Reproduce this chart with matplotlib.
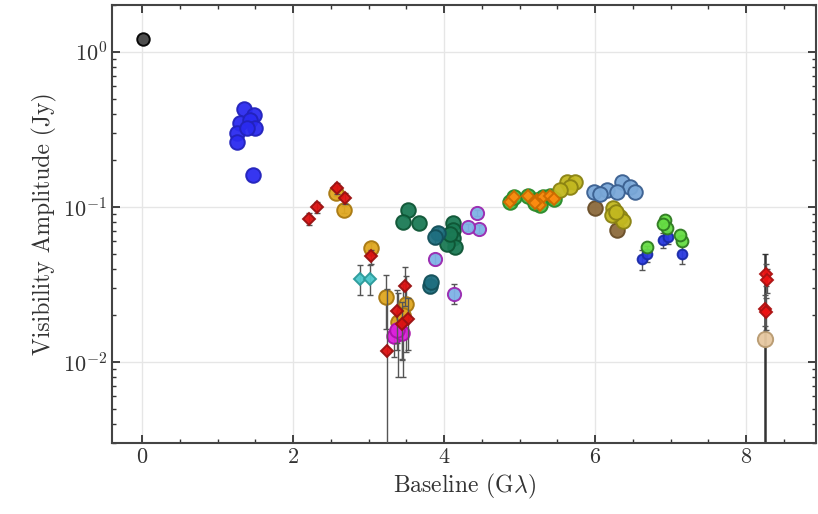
import numpy as np
import matplotlib.pyplot as plt

plt.rcParams['font.family'] = 'serif'
plt.rcParams['font.serif'] = ['cmr10', 'DejaVu Serif']
plt.rcParams['mathtext.fontset'] = 'cm'
plt.rcParams['axes.unicode_minus'] = False
plt.rcParams['axes.formatter.use_mathtext'] = True

# zero-spacing flux
x_zero = [0.01]
y_zero = [1.21]

# short baselines (blue)
x_blue = [1.35, 1.48, 1.30, 1.43, 1.50, 1.26, 1.25, 1.39, 1.47]
y_blue = [0.425, 0.394, 0.349, 0.366, 0.325, 0.301, 0.263, 0.325, 0.161]

# red diamonds
x_red = [2.21, 2.32, 2.58, 2.68, 3.03, 3.24, 3.48, 3.52, 3.38, 3.44]
y_red = [0.084, 0.0995, 0.132, 0.114, 0.048, 0.0117, 0.031, 0.0189, 0.0213, 0.0175]
err_red_lo = [0.008, 0.008, 0.010, 0.009, 0.005, 0.0116, 0.008, 0.007, 0.008, 0.007]
err_red_hi = [0.008, 0.008, 0.010, 0.009, 0.005, 0.018, 0.010, 0.007, 0.008, 0.007]

# gold circles
x_gold = [2.56, 2.67, 3.03, 3.23, 3.50, 3.39, 3.45]
y_gold = [0.123, 0.096, 0.0546, 0.0263, 0.0236, 0.018, 0.020]
err_gold = [0.006, 0.005, 0.004, 0.010, 0.012, 0.010, 0.012]

# cyan
x_cyan = [2.89, 3.02]
y_cyan = [0.0344, 0.0344]
err_cyan = [0.0075, 0.0075]

# magenta
x_mag = [3.33, 3.44, 3.38]
y_mag = [0.0147, 0.0153, 0.0160]
err_mag = [0.004, 0.005, 0.004]

# dark green
x_dgreen = [3.52, 3.45, 3.67, 4.11, 4.12, 4.12, 4.14, 4.04, 4.08]
y_dgreen = [0.095, 0.080, 0.079, 0.079, 0.071, 0.063, 0.055, 0.058, 0.067]

# teal
x_teal = [3.92, 3.81, 3.88, 3.83]
y_teal = [0.068, 0.031, 0.064, 0.033]
err_teal = [0.006, 0.003, 0.006, 0.003]

# purple edged light blue
x_purp = [4.44, 4.46, 4.32, 3.88, 4.13]
y_purp = [0.091, 0.072, 0.074, 0.046, 0.0276]
err_purp = [0.004, 0.004, 0.004, 0.004, 0.004]

# green with orange
x_lgreen = [4.87, 4.92, 5.11, 5.23, 5.31, 5.40, 5.27, 5.45, 5.20]
y_lgreen = [0.107, 0.115, 0.118, 0.110, 0.115, 0.118, 0.103, 0.113, 0.106]

# olive
x_olive = [5.63, 5.73, 5.67, 5.54, 6.24, 6.33, 6.37, 6.22, 6.28]
y_olive = [0.144, 0.144, 0.134, 0.128, 0.099, 0.086, 0.081, 0.089, 0.093]

# steel blue
x_steel = [5.98, 6.16, 6.36, 6.46, 6.53, 6.29, 6.07]
y_steel = [0.125, 0.128, 0.144, 0.134, 0.125, 0.125, 0.122]

# brown
x_brown = [6.00, 6.29]
y_brown = [0.098, 0.071]

# bright green
x_bgreen = [6.93, 6.95, 7.15, 6.69, 7.12, 6.90]
y_bgreen = [0.082, 0.073, 0.0607, 0.055, 0.066, 0.078]

# small blue
x_sblue = [6.62, 6.90, 7.15, 6.68, 6.96]
y_sblue = [0.046, 0.061, 0.050, 0.050, 0.064]
err_sblue = [0.007, 0.007, 0.007, 0.006, 0.006]

# long baseline
x_long_red = [8.26, 8.27, 8.25, 8.26]
y_long_red = [0.037, 0.034, 0.022, 0.021]
x_tan = [8.25]
y_tan = [0.014]
err_tan_lo = [0.0139]
err_tan_hi = [0.036]

fig = plt.figure(figsize=(8.18, 5.14), dpi=100)
ax = fig.add_axes([0.137, 0.138, 0.861, 0.852])

ecol = '#555555'

def pts(x, y, fc, ec, ms, mk='o', yerr=None, z=3):
    if yerr is not None:
        ax.errorbar(x, y, yerr=yerr, fmt='none', ecolor=ecol, elinewidth=1.0,
                    capsize=2.5, capthick=1.0, zorder=z - 0.5)
    ax.plot(x, y, mk, ms=ms, mfc=fc, mec=ec, mew=1.4, ls='none', zorder=z, alpha=0.95)

# error bars of the long baseline points
ax.errorbar(x_tan, y_tan, yerr=[err_tan_lo, err_tan_hi], fmt='none', ecolor='#333333',
            elinewidth=1.8, capsize=2.5, zorder=2)

pts(x_zero, y_zero, '#444444', 'black', 9)
pts(x_blue, y_blue, '#2b2bf0', '#2222bb', 10.5)
pts(x_gold, y_gold, '#e0a820', '#a87810', 10.5, yerr=err_gold)
pts(x_red, y_red, '#dd1111', '#991111', 6, mk='D', yerr=[err_red_lo, err_red_hi], z=4)
pts(x_cyan, y_cyan, '#4cc8cc', '#2a9a9a', 6, mk='D', yerr=err_cyan)
pts(x_mag, y_mag, '#dd22dd', '#aa11aa', 10.5, yerr=err_mag)
pts(x_dgreen, y_dgreen, '#1b7a55', '#0e5535', 10.5)
pts(x_teal, y_teal, '#1f6f80', '#13505a', 10.5, yerr=err_teal)
pts(x_purp, y_purp, '#7fb2e6', '#9a28b0', 9.5, yerr=err_purp)
pts(x_lgreen, y_lgreen, '#44c044', '#2a8a2a', 10.5)
pts(x_lgreen, y_lgreen, '#ff8c10', '#cc6a00', 6, mk='D', z=4)
pts(x_olive, y_olive, '#c2b820', '#8a8212', 10.5)
pts(x_brown, y_brown, '#8c6a3c', '#6a4e28', 10.5, z=2.5)
pts(x_steel, y_steel, '#7aa8d8', '#3a5f90', 10.5)
pts(x_sblue, y_sblue, '#2a3ae0', '#1a2aa8', 7, yerr=err_sblue)
pts(x_bgreen, y_bgreen, '#66dd44', '#2e7a20', 8.5, z=4)
pts(x_tan, y_tan, '#e6c8a0', '#b89a70', 11, z=4)
pts(x_long_red, y_long_red, '#ee1111', '#aa1111', 6, mk='D', yerr=[0.006, 0.006, 0.005, 0.005], z=5)

ax.set_yscale('log')
ax.set_xlim(-0.4, 8.93)
ax.set_ylim(0.003, 2.0)

ax.set_xticks([0, 2, 4, 6, 8])
ax.set_xticks(np.arange(-0.0, 8.9, 0.5), minor=True)
ax.grid(True, which='major', color='#e6e6e6', lw=1.0, zorder=0)
ax.set_axisbelow(True)

ax.tick_params(which='both', direction='in', top=True, right=True, colors='#333333',
               labelsize=16, labelcolor='#333333')
ax.tick_params(which='major', length=6, width=1.3)
ax.tick_params(which='minor', length=3, width=1.0)
for s in ax.spines.values():
    s.set_color('#444444')
    s.set_linewidth(1.5)

ax.set_xlabel(r'Baseline (G$\lambda$)', fontsize=17, color='#333333', labelpad=3)
ax.set_ylabel('Visibility Amplitude (Jy)', fontsize=17, color='#333333', labelpad=4)

fig.savefig('out.png', dpi=100)
